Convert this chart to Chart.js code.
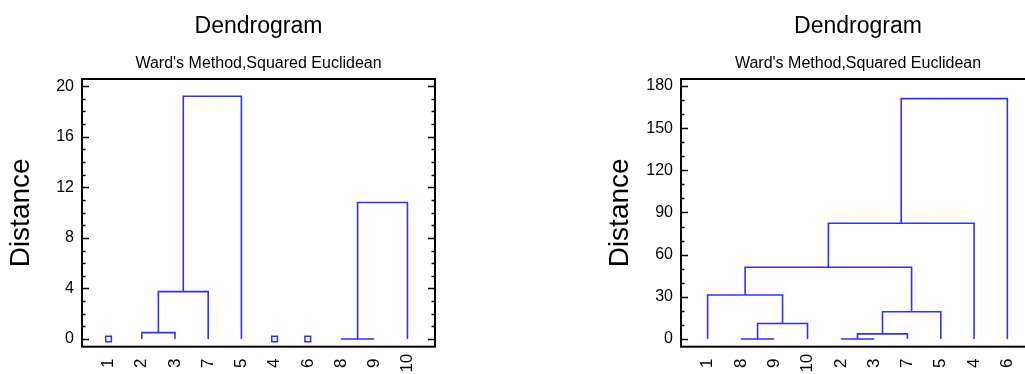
<!DOCTYPE html>
<html>
<head>
<meta charset="utf-8">
<script src="https://cdn.jsdelivr.net/npm/chart.js@4/dist/chart.umd.min.js"></script>
<style>
  html, body { margin: 0; padding: 0; background: #fff; overflow: hidden; width: 1025px; height: 374px; }
  .box { position: absolute; top: 0; }
  #box-left { left: 0; }
  #box-right { left: 560px; }
</style>
</head>
<body>
<div class="box" id="box-left"><canvas id="chart-left" width="470" height="374"></canvas></div>
<div class="box" id="box-right"><canvas id="chart-right" width="560" height="374"></canvas></div>
<script>
/* ===================== DATA ===================== */

const titleText = "Dendrogram";
const subtitleText = "Ward's Method,Squared Euclidean";
const yTitle = "Distance";

// left dendrogram: leaf order on the axis, merges (cN = result of merge N)
const leftOrder = ["1", "2", "3", "7", "5", "4", "6", "8", "9", "10"];
const leftMergeA = ["2", "c0", "c1", "8", "c3"];
const leftMergeB = ["3", "7", "5", "9", "10"];
const leftMergeDist = [0.5, 3.75, 19.2, 0, 10.8];
const leftSingles = ["1", "4", "6"];
const leftYTicks = [0, 4, 8, 12, 16, 20];

// right dendrogram
const rightOrder = ["1", "8", "9", "10", "2", "3", "7", "5", "4", "6"];
const rightMergeA = ["8", "c0", "1", "2", "c3", "c4", "c2", "c6", "c7"];
const rightMergeB = ["9", "10", "c1", "3", "7", "5", "c5", "4", "6"];
const rightMergeDist = [0, 11, 31.3, 0, 3.6, 19.4, 51, 82.3, 171];
const rightSingles = [];
const rightYTicks = [0, 30, 60, 90, 120, 150, 180];

/* ===================== HELPERS ===================== */

const BLUE = "#2f2fff";
const NARROW = "'Liberation Sans Narrow', 'Liberation Sans', Arial, sans-serif";
const REGULAR = "'Liberation Sans', Arial, sans-serif";

function buildLinks(order, mergeA, mergeB, mergeDist) {
  const pos = {};
  const base = {};
  order.forEach((name, i) => { pos[name] = i + 1; base[name] = 0; });
  return mergeA.map((a, i) => {
    const b = mergeB[i];
    const h = mergeDist[i];
    const pts = [
      { x: pos[a], y: base[a] },
      { x: pos[a], y: h },
      { x: pos[b], y: h },
      { x: pos[b], y: base[b] },
    ];
    pos["c" + i] = (pos[a] + pos[b]) / 2;
    base["c" + i] = h;
    return pts;
  });
}

// frame + inward ticks on both sides (major and minor)
const frameTicks = {
  id: "frameTicks",
  afterDraw(chart, args, opts) {
    const { ctx, chartArea: a, scales: { y } } = chart;
    ctx.save();
    ctx.strokeStyle = "#000";
    ctx.lineWidth = 1.5;
    for (let v = 0; v <= opts.top; v += opts.minorStep) {
      const py = Math.round(y.getPixelForValue(v)) + 0.5;
      const len = opts.major.includes(v) ? 7 : 3.5;
      ctx.beginPath();
      ctx.moveTo(a.left, py);
      ctx.lineTo(a.left + len, py);
      ctx.moveTo(a.right, py);
      ctx.lineTo(a.right - len, py);
      ctx.stroke();
    }
    ctx.lineWidth = 2;
    ctx.strokeRect(a.left, a.top, a.right - a.left, a.bottom - a.top);
    ctx.restore();
  },
};

function makeDendrogram(canvas, cfg) {
  const links = buildLinks(cfg.order, cfg.mergeA, cfg.mergeB, cfg.mergeDist);

  const datasets = links.map((pts) => ({
    data: pts,
    showLine: true,
    borderColor: BLUE,
    borderWidth: 1.6,
    pointRadius: 0,
    tension: 0,
    fill: false,
  }));

  datasets.push({
    data: cfg.singles.map((s) => ({ x: cfg.order.indexOf(s) + 1, y: 0 })),
    showLine: false,
    pointStyle: "rect",
    pointRadius: 4,
    borderWidth: 1.5,
    borderColor: BLUE,
    backgroundColor: "#fff",
  });

  return new Chart(canvas, {
    type: "scatter",
    data: { datasets },
    plugins: [frameTicks],
    options: {
      responsive: false,
      animation: false,
      events: [],
      layout: { padding: { left: 0, right: cfg.padRight, top: 0, bottom: 0 } },
      plugins: {
        legend: { display: false },
        tooltip: { enabled: false },
        title: {
          display: true,
          fullSize: false,
          text: titleText,
          color: "#000",
          font: { family: NARROW, size: 23, weight: "normal", lineHeight: 1.2 },
          padding: { top: 12.9, bottom: 0 },
        },
        subtitle: {
          display: true,
          fullSize: false,
          text: subtitleText,
          color: "#000",
          font: { family: NARROW, size: 16, weight: "normal", lineHeight: 1.2 },
          padding: { top: 13.9, bottom: 5.4 },
        },
        frameTicks: { top: cfg.yTicks[cfg.yTicks.length - 1], minorStep: cfg.minorStep, major: cfg.yTicks },
      },
      scales: {
        x: {
          type: "linear",
          min: 0.2,
          max: 10.83,
          grid: { display: false, drawTicks: false },
          border: { display: false },
          afterBuildTicks: (s) => { s.ticks = cfg.order.map((_, i) => ({ value: i + 1 })); },
          afterFit: (s) => { s.height = 27.3; s.paddingLeft = 0; s.paddingRight = 0; },
          ticks: {
            autoSkip: false,
            minRotation: 90,
            maxRotation: 90,
            padding: 7,
            color: "#000",
            font: { family: NARROW, size: 17 },
            callback: (v) => {
              const lab = cfg.order[Math.round(v) - 1];
              return lab.length === 1 ? lab + " " : lab;
            },
          },
        },
        y: {
          type: "linear",
          min: cfg.yMin,
          max: cfg.yMax,
          grid: { display: false, drawTicks: false },
          border: { display: false },
          afterBuildTicks: (s) => { s.ticks = cfg.yTicks.map((v) => ({ value: v })); },
          afterFit: (s) => { s.width = cfg.axisWidth; s.paddingTop = 0; s.paddingBottom = 0; },
          ticks: {
            padding: 8,
            color: "#000",
            font: { family: NARROW, size: 16 },
          },
          title: {
            display: true,
            text: yTitle,
            color: "#000",
            font: { family: REGULAR, size: 28, lineHeight: 1.2 },
            padding: { top: cfg.titlePad, bottom: 0 },
          },
        },
      },
    },
  });
}

/* ===================== RENDER ===================== */

makeDendrogram(document.getElementById("chart-left"), {
  order: leftOrder,
  mergeA: leftMergeA,
  mergeB: leftMergeB,
  mergeDist: leftMergeDist,
  singles: leftSingles,
  yTicks: leftYTicks,
  minorStep: 1,
  yMin: -0.61,
  yMax: 20.57,
  axisWidth: 82,
  titlePad: 4,
  padRight: 35,
});

makeDendrogram(document.getElementById("chart-right"), {
  order: rightOrder,
  mergeA: rightMergeA,
  mergeB: rightMergeB,
  mergeDist: rightMergeDist,
  singles: rightSingles,
  yTicks: rightYTicks,
  minorStep: 10,
  yMin: -5.5,
  yMax: 185,
  axisWidth: 121,
  titlePad: 43,
  padRight: 85,
});
</script>
</body>
</html>
